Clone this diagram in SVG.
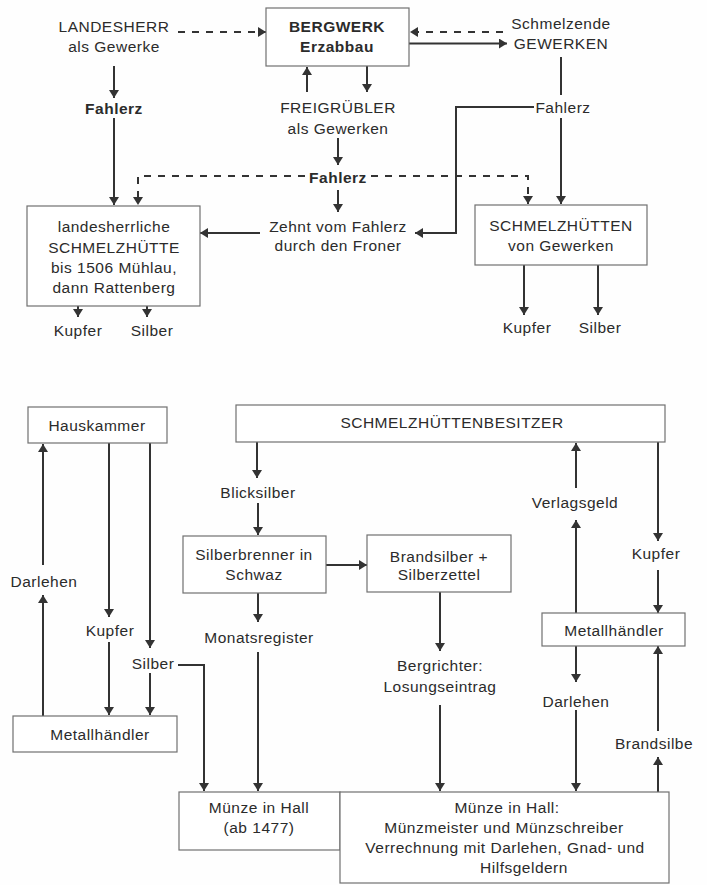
<svg xmlns="http://www.w3.org/2000/svg" width="707" height="885" viewBox="0 0 707 885">
<defs>
<marker id="ah" markerUnits="userSpaceOnUse" markerWidth="9" markerHeight="10" refX="8" refY="5" orient="auto">
<path d="M0,0 L8,5 L0,10 z" fill="#333"/>
</marker>
<style>
text{font-family:"Liberation Sans",Arial,sans-serif;font-size:15.5px;letter-spacing:0.5px;fill:#2b2b2b;text-anchor:middle}
.b{font-weight:bold}
.box{fill:#fff;stroke:#707070;stroke-width:1.2}
.c{fill:none;stroke:#333;stroke-width:2;marker-end:url(#ah)}
.l{fill:none;stroke:#333;stroke-width:2}
.d{fill:none;stroke:#333;stroke-width:2;stroke-dasharray:7 7;marker-end:url(#ah)}
</style>
</defs>
<rect width="707" height="885" fill="#fefefe"/>

<g id="connectors">
<path class="d" d="M178,32 H266"/>
<path class="d" d="M503,32 H410"/>
<path class="c" d="M409,43.5 H507"/>
<path class="c" d="M114,66 V98"/>
<path class="c" d="M114,118 V205"/>
<path class="c" d="M307,92 V67"/>
<path class="c" d="M367,66 V92"/>
<path class="c" d="M338,138 V165"/>
<path class="c" d="M338,190 V212"/>
<path class="l" d="M561,57 V95"/>
<path class="c" d="M561,118 V204"/>
<path class="c" d="M534,107 H456 V233 H415"/>
<path class="c" d="M260,233 H200"/>
<path class="d" d="M305,176 H138 V205"/>
<path class="d" d="M371,176 H528 V204"/>
<path class="c" d="M78,306 V317"/>
<path class="c" d="M147,306 V317"/>
<path class="c" d="M524,265 V315"/>
<path class="c" d="M598,265 V315"/>

<path class="c" d="M257,442 V478"/>
<path class="c" d="M258,503 V535"/>
<path class="c" d="M326,565 H367"/>
<path class="c" d="M258,593 V622"/>
<path class="c" d="M258,652 V791"/>
<path class="c" d="M440,592 V651"/>
<path class="c" d="M440,705 V791"/>
<path class="c" d="M43,565 V444"/>
<path class="c" d="M43,716 V595"/>
<path class="c" d="M109,443 V617"/>
<path class="c" d="M109,642 V715"/>
<path class="c" d="M150,443 V648"/>
<path class="c" d="M150,673 V715"/>
<path class="c" d="M178,665 H204 V791"/>
<path class="c" d="M576,488 V443"/>
<path class="c" d="M576,613 V520"/>
<path class="c" d="M658,442 V541"/>
<path class="c" d="M658,570 V613"/>
<path class="c" d="M576,646 V682"/>
<path class="c" d="M576,710 V791"/>
<path class="c" d="M658,731 V646"/>
<path class="c" d="M658,792 V757"/>
</g>

<g id="n-landesherr"><text x="114" y="31.5">LANDESHERR</text><text x="114" y="51.5">als Gewerke</text></g>
<g id="n-bergwerk"><rect class="box" x="266" y="8" width="143" height="58"/><text class="b" x="337" y="31.5">BERGWERK</text><text class="b" x="337" y="51.5">Erzabbau</text></g>
<g id="n-schmelzende"><text x="561" y="28.5">Schmelzende</text><text x="561" y="48.5">GEWERKEN</text></g>
<g id="n-fahlerz-l"><text class="b" x="114" y="113.5">Fahlerz</text></g>
<g id="n-freigruebler"><text x="338" y="112.5">FREIGRÜBLER</text><text x="338" y="133.5">als Gewerken</text></g>
<g id="n-fahlerz-m"><text class="b" x="338" y="182.5">Fahlerz</text></g>
<g id="n-fahlerz-r"><text x="563" y="112.5">Fahlerz</text></g>
<g id="n-zehnt"><text x="338" y="232">Zehnt vom Fahlerz</text><text x="338" y="250.5">durch den Froner</text></g>
<g id="n-lh-huette"><rect class="box" x="27" y="206" width="173" height="100"/><text x="114" y="232">landesherrliche</text><text x="114" y="252.5">SCHMELZHÜTTE</text><text x="114" y="272.5">bis 1506 Mühlau,</text><text x="114" y="292.5">dann Rattenberg</text></g>
<g id="n-huetten-gew"><rect class="box" x="475" y="205" width="172" height="60"/><text x="561" y="230.5">SCHMELZHÜTTEN</text><text x="561" y="250.5">von Gewerken</text></g>
<g id="n-kupfer-l"><text x="78" y="336">Kupfer</text></g>
<g id="n-silber-l"><text x="152" y="336">Silber</text></g>
<g id="n-kupfer-r"><text x="527" y="332.5">Kupfer</text></g>
<g id="n-silber-r"><text x="600" y="332.5">Silber</text></g>

<g id="n-hauskammer"><rect class="box" x="28" y="407" width="139" height="36"/><text x="97" y="430.5">Hauskammer</text></g>
<g id="n-besitzer"><rect class="box" x="236" y="405" width="429" height="37"/><text x="452" y="428">SCHMELZHÜTTENBESITZER</text></g>
<g id="n-blicksilber"><text x="258" y="498">Blicksilber</text></g>
<g id="n-silberbrenner"><rect class="box" x="183" y="536" width="143" height="57"/><text x="254" y="559.5">Silberbrenner in</text><text x="254" y="579.5">Schwaz</text></g>
<g id="n-brandsilber"><rect class="box" x="367" y="535" width="144" height="57"/><text x="439" y="561.5">Brandsilber +</text><text x="439" y="579.5">Silberzettel</text></g>
<g id="n-monatsregister"><text x="259" y="643">Monatsregister</text></g>
<g id="n-bergrichter"><text x="440" y="671">Bergrichter:</text><text x="440" y="692">Losungseintrag</text></g>
<g id="n-darlehen-l"><text x="44" y="587">Darlehen</text></g>
<g id="n-kupfer-bl"><text x="110" y="636">Kupfer</text></g>
<g id="n-silber-bl"><text x="153" y="668.5">Silber</text></g>
<g id="n-metall-l"><rect class="box" x="13" y="716" width="164" height="36"/><text x="100" y="739.5">Metallhändler</text></g>
<g id="n-muenze1"><rect class="box" x="179" y="792" width="161" height="58"/><text x="259" y="812.5">Münze in Hall</text><text x="259" y="833">(ab 1477)</text></g>
<g id="n-muenze2"><rect class="box" x="340" y="792" width="329" height="91"/><text x="507" y="812.5">Münze in Hall:</text><text x="504" y="833">Münzmeister und Münzschreiber</text><text x="505" y="853">Verrechnung mit Darlehen, Gnad- und</text><text x="524" y="873">Hilfsgeldern</text></g>
<g id="n-verlagsgeld"><text x="575" y="508">Verlagsgeld</text></g>
<g id="n-kupfer-br"><text x="656" y="558.5">Kupfer</text></g>
<g id="n-metall-r"><rect class="box" x="542" y="613" width="143" height="33"/><text x="614" y="636">Metallhändler</text></g>
<g id="n-darlehen-r"><text x="576" y="706.5">Darlehen</text></g>
<g id="n-brandsilbe"><text x="654" y="748.5">Brandsilbe</text></g>
</svg>
